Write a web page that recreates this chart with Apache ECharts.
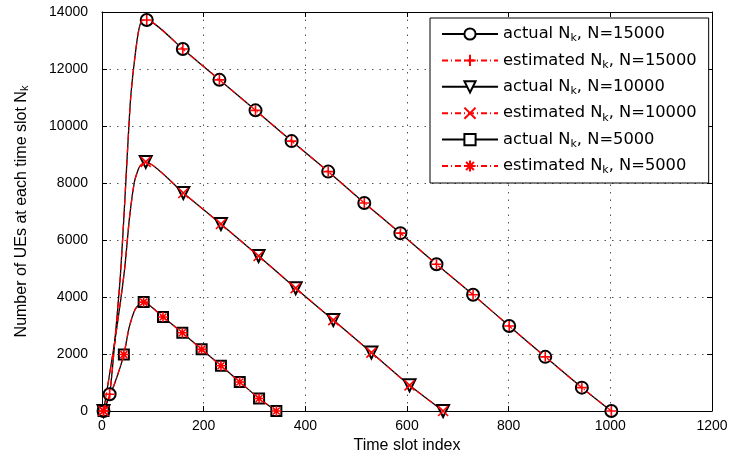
<!DOCTYPE html>
<html><head><meta charset="utf-8">
<script src="https://cdn.jsdelivr.net/npm/echarts@6/dist/echarts.min.js"></script>
<style>html,body{margin:0;padding:0;background:#fff}#c{width:731px;height:459px}</style>
</head><body><div id="c"></div>
<script>
// ---- data ----
const xTicks = [0, 200, 400, 600, 800, 1000, 1200];
const yTicks = [0, 2000, 4000, 6000, 8000, 10000, 12000, 14000];
const legendNames = [
  'actual N_k, N=15000', 'estimated N_k, N=15000',
  'actual N_k, N=10000', 'estimated N_k, N=10000',
  'actual N_k, N=5000', 'estimated N_k, N=5000'
];
// N = 15000 : curve points (no marker) and marker points
const curve15X = [25, 36, 44, 51, 56, 62, 71, 78];
const curve15Y = [2400, 4700, 7100, 9400, 10900, 12000, 13240, 13690];
const mark15X = [3, 15, 88, 159, 231, 302, 373, 445, 516, 587, 658, 730, 801, 872, 944, 1002];
const mark15Y = [0, 590, 13720, 12700, 11620, 10550, 9470, 8400, 7300, 6240, 5150, 4080, 2980, 1900, 820, 0];
// N = 10000
const curve10X = [24, 44, 54, 64, 74];
const curve10Y = [2300, 4900, 6770, 8060, 8580];
const mark10X = [3, 86, 160, 234, 308, 381, 455, 530, 605, 671];
const mark10Y = [0, 8740, 7650, 6560, 5440, 4310, 3190, 2050, 900, 0];
// N = 5000
const curve5X = [25, 53, 65, 75];
const curve5Y = [973, 2900, 3560, 3760];
const mark5X = [3, 43, 82, 120, 158, 196, 234, 271, 309, 343];
const mark5Y = [0, 1980, 3821, 3300, 2744, 2164, 1588, 1019, 440, 0];
// estimated values coincide visually with the actual ones
const estCurve15Y = curve15Y, estMark15Y = mark15Y;
const estCurve10Y = curve10Y, estMark10Y = mark10Y;
const estCurve5Y = curve5Y, estMark5Y = mark5Y;

function build(cx, cy, mx, my) {
  const pts = [];
  cx.forEach((x, i) => pts.push({ value: [x, cy[i]], symbol: 'none' }));
  mx.forEach((x, i) => pts.push({ value: [x, my[i]] }));
  pts.sort((a, b) => a.value[0] - b.value[0]);
  return pts;
}

const PLUS = 'path://M5,0L5,10M0,5L10,5';
const CROSS = 'path://M0,0L10,10M10,0L0,10';
const STAR = 'path://M5,0L5,10M0,5L10,5M1.5,1.5L8.5,8.5M8.5,1.5L1.5,8.5';

function actual(name, data, symbol, rot, size) {
  return {
    name, type: 'line', data, symbol, symbolSize: size || 11, symbolRotate: rot || 0,
    showSymbol: true, showAllSymbol: true, smooth: 0.2,
    lineStyle: { color: '#000', width: 1.3 },
    itemStyle: { color: '#000', borderColor: '#000', borderWidth: 1.2 },
    emphasis: { disabled: true }, z: 2
  };
}
function estimated(name, data, symbol) {
  return {
    name, type: 'line', data, symbol, symbolSize: 10,
    showSymbol: true, showAllSymbol: true, smooth: 0.2,
    lineStyle: { color: '#ff0000', width: 1.3, type: [6, 3, 1, 3] },
    itemStyle: { color: '#ff0000', borderColor: '#ff0000', borderWidth: 1.6 },
    emphasis: { disabled: true }, z: 3
  };
}

const fontMain = 'Liberation Sans, Arial, sans-serif';
const subRich = { sub: { fontSize: 11, lineHeight: 8, verticalAlign: 'bottom' } };

const chart = echarts.init(document.getElementById('c'), null, { renderer: 'canvas' });
chart.setOption({
  animation: false,
  backgroundColor: '#fff',
  grid: { left: 102, right: 19, top: 12, bottom: 44, show: false },
  legend: {
    orient: 'vertical', left: 430, top: 18,
    itemWidth: 56, itemHeight: 14, itemGap: 6.4,
    padding: [6, 12, 7, 11],
    borderColor: '#000', borderWidth: 1, backgroundColor: '#fff',
    data: legendNames,
    formatter: n => n.replace('N_k', 'N{sub|k}'),
    textStyle: { fontFamily: 'DejaVu Sans', fontSize: 16.3, lineHeight: 20, color: '#000', rich: { sub: { fontSize: 11, lineHeight: 6, verticalAlign: 'bottom', fontFamily: 'DejaVu Sans' } } }
  },
  xAxis: [{
    type: 'value', min: xTicks[0], max: xTicks[xTicks.length - 1], interval: 200, position: 'bottom',
    axisLine: { show: true, onZero: false, lineStyle: { color: '#000', width: 1 } },
    axisTick: { show: true, inside: true, length: 5, lineStyle: { color: '#000' } },
    axisLabel: { fontFamily: fontMain, fontSize: 14, color: '#000', margin: 8, formatter: v => String(v) },
    splitLine: { show: true, lineStyle: { type: [1.5, 6], color: '#555', width: 1 } },
    name: 'Time slot index', nameLocation: 'middle', nameGap: 27,
    nameTextStyle: { fontFamily: fontMain, fontSize: 16, color: '#000' }
  }, {
    type: 'value', min: xTicks[0], max: xTicks[xTicks.length - 1], interval: 200, position: 'top',
    axisLine: { show: true, onZero: false, lineStyle: { color: '#000', width: 1 } },
    axisTick: { show: true, inside: true, length: 5, lineStyle: { color: '#000' } },
    axisLabel: { show: false }, splitLine: { show: false }
  }],
  yAxis: [{
    type: 'value', min: yTicks[0], max: yTicks[yTicks.length - 1], interval: 2000, position: 'left',
    axisLine: { show: true, onZero: false, lineStyle: { color: '#000', width: 1 } },
    axisTick: { show: true, inside: true, length: 5, lineStyle: { color: '#000' } },
    axisLabel: { fontFamily: fontMain, fontSize: 14, color: '#000', margin: 14, formatter: v => String(v) },
    splitLine: { show: true, lineStyle: { type: [1.5, 6], color: '#555', width: 1 } },
    name: 'Number of UEs at each time slot N{sub|k}', nameLocation: 'middle', nameGap: 72,
    nameTextStyle: { fontFamily: fontMain, fontSize: 16, color: '#000', rich: subRich }
  }, {
    type: 'value', min: yTicks[0], max: yTicks[yTicks.length - 1], interval: 2000, position: 'right',
    axisLine: { show: true, onZero: false, lineStyle: { color: '#000', width: 1 } },
    axisTick: { show: true, inside: true, length: 5, lineStyle: { color: '#000' } },
    axisLabel: { show: false }, splitLine: { show: false }
  }],
  series: [
    actual(legendNames[0], build(curve15X, curve15Y, mark15X, mark15Y), 'emptyCircle', 0, 12),
    estimated(legendNames[1], build(curve15X, estCurve15Y, mark15X, estMark15Y), PLUS),
    actual(legendNames[2], build(curve10X, curve10Y, mark10X, mark10Y), 'emptyTriangle', 180, 12),
    estimated(legendNames[3], build(curve10X, estCurve10Y, mark10X, estMark10Y), CROSS),
    actual(legendNames[4], build(curve5X, curve5Y, mark5X, mark5Y), 'emptyRect', 0, 10),
    estimated(legendNames[5], build(curve5X, estCurve5Y, mark5X, estMark5Y), STAR)
  ]
});
</script></body></html>
